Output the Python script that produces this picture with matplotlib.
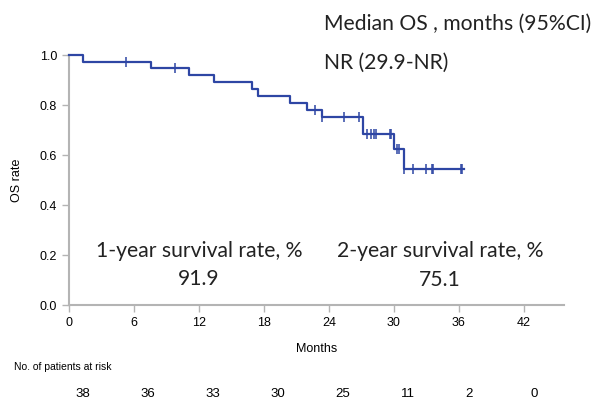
import numpy as np
import matplotlib
matplotlib.use("Agg")
import matplotlib.pyplot as plt
import matplotlib.transforms as mtransforms

# Kaplan-Meier steps
event_times = [0, 1.3, 7.6, 11.1, 13.4, 16.9, 17.4, 20.4, 22.0, 23.4, 27.1, 30.0, 30.9]
surv = [1.0, 0.974, 0.947, 0.919, 0.891, 0.863, 0.835, 0.807, 0.779, 0.751, 0.684, 0.623, 0.546]
end_time = 36.5
censor_times = [5.3, 9.8, 22.7, 23.4, 25.4, 26.8, 27.5, 27.9, 28.2, 28.3, 29.6, 29.7,
                30.3, 30.5, 30.9, 31.8, 33.0, 33.5, 33.6, 36.2, 36.3]

risk_times = [0, 6, 12, 18, 24, 30, 36, 42]
at_risk = [38, 36, 33, 30, 25, 11, 2, 0]

x_ticks = [0, 6, 12, 18, 24, 30, 36, 42]
y_ticks = [0.0, 0.2, 0.4, 0.6, 0.8, 1.0]

line_color = "#2e46a4"
axis_color = "#b4b4b4"
txt_font = ["Lato", "DejaVu Sans"]
tick_font = ["Liberation Sans Narrow", "Liberation Sans", "DejaVu Sans"]

fig = plt.figure(figsize=(5.95, 4.0), dpi=100)
ax = fig.add_axes([0.116, 0.2375, 0.832, 0.625])

t = np.array(event_times + [end_time])
s = np.array(surv + [surv[-1]])
ax.step(t, s, where="post", color=line_color, lw=1.6, clip_on=False, zorder=3)

# censor marks sit on the step curve
idx = np.searchsorted(event_times, censor_times, side="right") - 1
cs = np.array(surv)[idx]
ax.plot(censor_times, cs, ls="none", marker="|", ms=7, mew=1.1,
        color=line_color, clip_on=False, zorder=4)

ax.set_xlim(0, 45.7)
ax.set_ylim(0, 1.0)
ax.set_xticks(x_ticks)
ax.set_yticks(y_ticks)
ax.set_yticklabels([f"{v:.1f}" for v in y_ticks])
for sp in ["top", "right"]:
    ax.spines[sp].set_visible(False)
for sp in ["left", "bottom"]:
    ax.spines[sp].set_color(axis_color)
    ax.spines[sp].set_linewidth(1.5)
ax.tick_params(colors=axis_color, length=5, width=1, labelcolor="black", labelsize=9)
for lab in ax.get_xticklabels() + ax.get_yticklabels():
    lab.set_family(tick_font)

ax.set_xlabel("Months", fontsize=9, family=tick_font, labelpad=10)
ax.set_ylabel("OS rate", fontsize=9, family=tick_font, labelpad=12)

# annotations
fs = 15.2
fig.text(324 / 595, 1 - 24 / 400, "Median OS , months (95%CI)", fontsize=fs,
         family=txt_font, color="#222222", va="center", ha="left")
fig.text(324 / 595, 1 - 63 / 400, "NR (29.9-NR)", fontsize=fs,
         family=txt_font, color="#222222", va="center", ha="left")
fig.text(199 / 595, 1 - 251 / 400, "1-year survival rate, %", fontsize=fs,
         family=txt_font, color="#222222", va="center", ha="center")
fig.text(199 / 595, 1 - 279 / 400, "91.9", fontsize=fs,
         family=txt_font, color="#222222", va="center", ha="center")
fig.text(440 / 595, 1 - 251 / 400, "2-year survival rate, %", fontsize=fs,
         family=txt_font, color="#222222", va="center", ha="center")
fig.text(440 / 595, 1 - 280 / 400, "75.1", fontsize=fs,
         family=txt_font, color="#222222", va="center", ha="center")

# risk table
fig.text(14 / 595, 1 - 367 / 400, "No. of patients at risk", fontsize=7.5,
         family=tick_font, va="center", ha="left")
trans = mtransforms.blended_transform_factory(ax.transData, fig.transFigure)
for rt, n in zip(risk_times, at_risk):
    ax.text(rt + 0.6, 1 - 394 / 400, str(n), transform=trans, fontsize=9.5,
            family=tick_font, ha="left", va="center")

fig.savefig("out.png", dpi=100)
